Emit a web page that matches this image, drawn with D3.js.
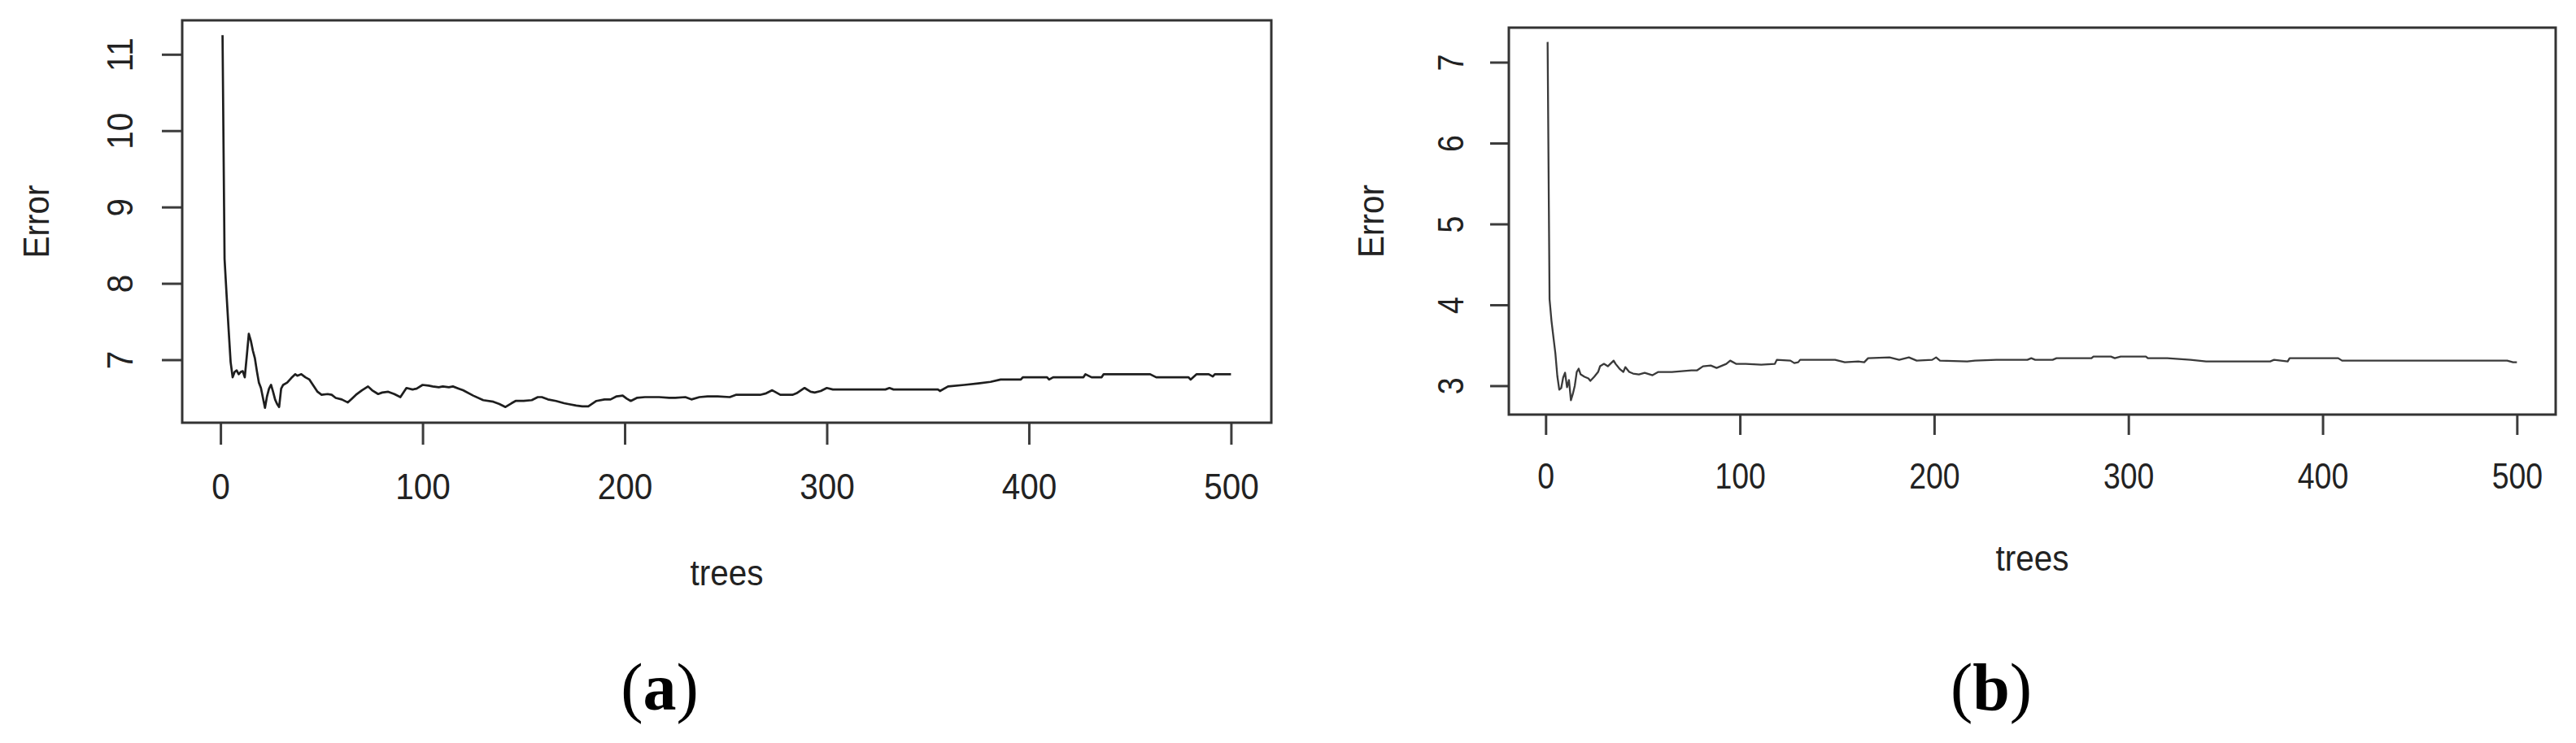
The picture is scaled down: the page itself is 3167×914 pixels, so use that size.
<!DOCTYPE html>
<html>
<head>
<meta charset="utf-8">
<title>Error vs trees</title>
<style>
  body{margin:0;background:#fff;}
  text{font-family:"Liberation Sans", Arial, Helvetica, sans-serif;fill:#222;}
  .cap{font-family:"Liberation Serif","Times New Roman",serif;fill:#000;}
</style>
</head>
<body>
<div id="vis"></div>
<script src="https://cdn.jsdelivr.net/npm/d3@7/dist/d3.min.js"></script>
<script>

  // panel (a): error by number of trees
  var treesA = [1,2,3,4,5,6,7,8,9,10,11,12,13,14,15,16,17,18,19,20,21,22,23,24,25,26,27,28,29,30,31,33,35,37,38,40,42,44,46,48,50,53,55,57,60,63,65,67,70,73,75,78,80,83,86,89,92,95,97,100,103,105,108,110,113,115,118,120,125,130,135,138,141,144,146,150,154,157,159,162,166,170,172,176,179,182,186,190,193,196,199,201,203,206,210,217,222,225,230,233,237,241,246,252,255,260,267,270,273,277,283,285,289,292,294,297,300,303,329,331,333,355,356,360,368,375,381,386,396,397,409,410,412,427,428,431,436,437,460,463,479,480,483,489,491,492,500];
  var errA = [11.25,8.32,7.85,7.40,6.97,6.77,6.84,6.86,6.81,6.84,6.85,6.77,7.05,7.34,7.25,7.12,7.02,6.85,6.70,6.63,6.50,6.37,6.52,6.62,6.67,6.58,6.48,6.42,6.38,6.62,6.67,6.70,6.76,6.81,6.79,6.81,6.77,6.74,6.66,6.58,6.54,6.55,6.54,6.50,6.48,6.44,6.49,6.54,6.60,6.65,6.60,6.55,6.57,6.58,6.55,6.51,6.63,6.61,6.62,6.67,6.66,6.65,6.64,6.65,6.64,6.65,6.62,6.60,6.53,6.47,6.45,6.42,6.38,6.43,6.46,6.46,6.47,6.51,6.51,6.48,6.46,6.43,6.42,6.40,6.39,6.39,6.46,6.48,6.48,6.52,6.53,6.49,6.46,6.50,6.51,6.51,6.50,6.50,6.51,6.48,6.51,6.52,6.52,6.51,6.54,6.54,6.54,6.56,6.60,6.54,6.54,6.56,6.63,6.58,6.57,6.59,6.63,6.61,6.61,6.63,6.61,6.61,6.59,6.65,6.67,6.69,6.71,6.74,6.74,6.77,6.77,6.74,6.77,6.77,6.81,6.77,6.77,6.81,6.81,6.77,6.77,6.74,6.81,6.81,6.78,6.81,6.81];

  // panel (b)
  var treesB = [1,2,3,4,5,6,7,8,9,10,11,12,13,14,15,16,17,18,20,22,23,25,27,28,30,32,35,36,38,40,41,43,45,48,51,55,58,61,65,70,75,78,81,85,88,90,93,95,98,103,111,118,119,126,128,130,131,149,154,161,164,166,177,182,187,191,199,201,203,217,221,232,248,250,252,261,263,281,282,291,293,296,309,310,320,332,340,373,375,382,383,408,410,495,498,500];
  var errB = [7.25,4.07,3.80,3.60,3.40,3.12,2.95,2.97,3.10,3.16,2.98,3.07,2.82,2.90,3.00,3.17,3.21,3.14,3.11,3.09,3.06,3.11,3.17,3.24,3.27,3.24,3.31,3.27,3.21,3.17,3.23,3.17,3.15,3.14,3.16,3.13,3.17,3.17,3.17,3.18,3.19,3.19,3.24,3.25,3.22,3.24,3.27,3.31,3.27,3.27,3.26,3.27,3.32,3.31,3.28,3.29,3.32,3.32,3.29,3.30,3.29,3.34,3.35,3.32,3.35,3.31,3.32,3.35,3.31,3.30,3.31,3.32,3.32,3.34,3.32,3.32,3.34,3.34,3.36,3.36,3.34,3.36,3.36,3.34,3.34,3.32,3.30,3.30,3.32,3.30,3.34,3.34,3.31,3.31,3.29,3.29];

  var xTicks = [0,100,200,300,400,500];
  var yTicksA = [7,8,9,10,11];
  var yTicksB = [3,4,5,6,7];
  var xTitle = 'trees', yTitle = 'Error';

  var width = 3167, height = 914;

  var svg = d3.select('#vis').append('svg')
    .attr('width',width).attr('height',height)
    .style('background','#fff');

  var panels = [
    {trees:treesA, err:errA, yTicks:yTicksA, cap:'a',
     left:224, top:25, right:1563, bottom:520,
     tickX:27, tickY:25, labX:78, labY:77, fs:45, sx:0.9,
     titleX:180, titleY:200, stroke:'#1e1e1e', sw:2.7, capX:811},
    {trees:treesB, err:errB, yTicks:yTicksB, cap:'b',
     left:1855, top:34, right:3142, bottom:510,
     tickX:25, tickY:23, labX:75, labY:72, fs:44, sx:0.85,
     titleX:170, titleY:192, stroke:'#3a3a3a', sw:2.3, capX:2448}
  ];

  // R style axis range: extend by 4% on both sides
  function rRange(ext){
    var d = (ext[1]-ext[0])*0.04;
    return [ext[0]-d, ext[1]+d];
  }

  panels.forEach(function(p){
    var w = p.right-p.left, h = p.bottom-p.top;
    var g = svg.append('g').attr('transform','translate('+p.left+','+p.top+')');

    var x = d3.scaleLinear().domain(rRange(d3.extent(p.trees))).range([0,w]);
    var y = d3.scaleLinear().domain(rRange(d3.extent(p.err))).range([h,0]);

    var line = d3.line()
      .x(function(d,i){ return x(p.trees[i]); })
      .y(function(d){ return y(d); });

    g.append('path')
      .attr('d', line(p.err))
      .style('fill','none')
      .style('stroke',p.stroke)
      .style('stroke-width',p.sw)
      .style('stroke-linejoin','round');

    // bottom axis
    var xa = g.append('g')
      .attr('transform','translate(0,'+h+')')
      .call(d3.axisBottom(x).tickValues(xTicks).tickSize(p.tickX).tickFormat(d3.format('d')));
    xa.select('.domain').remove();
    xa.selectAll('line').style('stroke','#3c3c3c').style('stroke-width',3);
    xa.selectAll('text')
      .attr('y',p.labX).attr('dy','0.36em')
      .attr('transform','scale('+p.sx+',1)')
      .style('font-size',p.fs+'px').style('fill','#222');

    // left axis, labels parallel to the axis
    var ya = g.append('g')
      .call(d3.axisLeft(y).tickValues(p.yTicks).tickSize(p.tickY).tickFormat(d3.format('d')));
    ya.select('.domain').remove();
    ya.selectAll('line').style('stroke','#3c3c3c').style('stroke-width',3);
    ya.selectAll('text')
      .attr('x',null).attr('dy','0.36em')
      .attr('text-anchor','middle')
      .attr('transform','translate('+(-p.labY)+',0) rotate(-90) scale('+p.sx+',1)')
      .style('font-size',p.fs+'px').style('fill','#222');

    // frame
    g.append('rect')
      .attr('width',w).attr('height',h)
      .style('fill','none')
      .style('stroke','#333')
      .style('stroke-width',3);

    g.append('text')
      .attr('transform','translate('+(w/2)+','+(h+p.titleY)+') scale(0.92,1)')
      .attr('text-anchor','middle')
      .style('font-size','44px')
      .text(xTitle);

    g.append('text')
      .attr('transform','translate('+(-p.titleX)+','+(h/2)+') rotate(-90) scale(0.92,1)')
      .attr('text-anchor','middle')
      .attr('dy','0.36em')
      .style('font-size','44px')
      .text(yTitle);

    var cap = svg.append('text')
      .attr('class','cap')
      .attr('x',p.capX).attr('y',873)
      .attr('text-anchor','middle')
      .style('font-size','82px');
    cap.append('tspan').text('(');
    cap.append('tspan').style('font-weight','bold').text(p.cap);
    cap.append('tspan').text(')');
  });

</script>
</body>
</html>
